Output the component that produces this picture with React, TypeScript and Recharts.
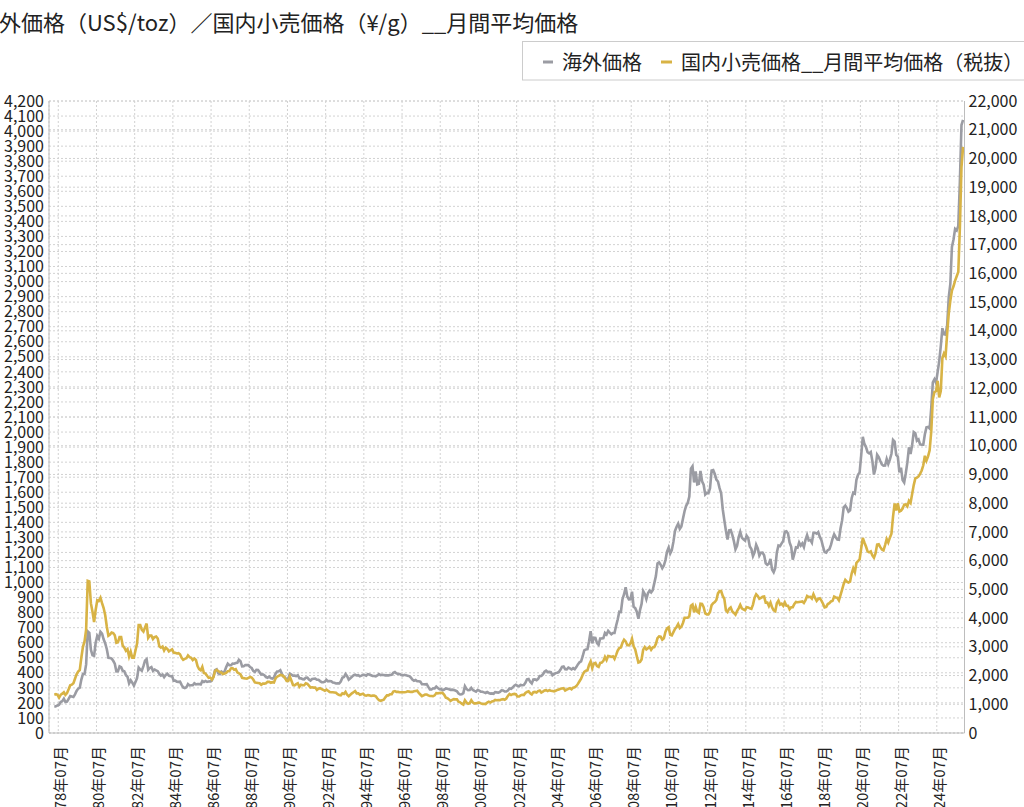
import React from 'react';
import { LineChart, Line, XAxis, YAxis, CartesianGrid } from 'recharts';

const FONT = "'Noto Sans CJK JP', 'Noto Sans', sans-serif";

// monthly series, 1978-04 .. 2025-11
const START_YEAR = 1978;
const START_MONTH = 4;

// 海外価格 (US$/toz), monthly average
const overseasUsd: number[] = [
  175, 177, 183, 188, 206, 212, 228, 206, 208, // 1978 Apr-Dec
  227, 245, 242, 239, 257, 279, 295, 301, 355, 392, 392, 456, // 1979
  675, 665, 553, 517, 513, 600, 645, 627, 673, 661, 623, 595, // 1980
  557, 500, 499, 495, 480, 461, 409, 410, 443, 437, 413, 410, // 1981
  384, 374, 330, 350, 334, 315, 339, 364, 435, 422, 414, 444, // 1982
  481, 491, 420, 432, 438, 413, 422, 416, 411, 393, 382, 388, // 1983
  371, 386, 394, 381, 377, 378, 348, 348, 341, 340, 341, 320, // 1984
  303, 299, 304, 325, 316, 317, 317, 330, 323, 326, 325, 322, // 1985
  345, 339, 346, 340, 342, 343, 348, 376, 418, 423, 396, 391, // 1986
  408, 401, 409, 438, 460, 450, 450, 461, 460, 465, 467, 486, // 1987
  477, 443, 444, 452, 451, 451, 438, 432, 413, 406, 420, 419, // 1988
  404, 388, 390, 384, 371, 367, 375, 365, 362, 367, 394, 409, // 1989
  410, 417, 393, 374, 369, 352, 362, 395, 389, 381, 381, 378, // 1990
  384, 364, 363, 358, 357, 367, 368, 356, 349, 359, 360, 361, // 1991
  354, 354, 345, 338, 337, 341, 353, 343, 345, 344, 335, 334, // 1992
  329, 330, 330, 342, 367, 372, 392, 378, 355, 364, 374, 383, // 1993
  387, 382, 384, 377, 381, 386, 385, 381, 391, 389, 384, 379, // 1994
  379, 377, 382, 391, 385, 387, 386, 383, 383, 383, 386, 387, // 1995
  400, 405, 396, 393, 392, 385, 383, 387, 383, 381, 378, 369, // 1996
  355, 347, 352, 344, 344, 341, 324, 324, 323, 325, 306, 289, // 1997
  289, 297, 296, 308, 299, 292, 293, 284, 289, 296, 294, 291, // 1998
  287, 288, 286, 282, 277, 262, 256, 257, 265, 311, 293, 284, // 1999
  285, 300, 286, 280, 275, 286, 282, 275, 274, 270, 266, 272, // 2000
  266, 262, 263, 261, 272, 270, 268, 273, 284, 283, 276, 276, // 2001
  282, 296, 294, 302, 314, 321, 314, 310, 319, 317, 319, 333, // 2002
  357, 359, 340, 329, 355, 356, 351, 360, 379, 379, 389, 407, // 2003
  414, 405, 406, 404, 384, 392, 398, 401, 405, 420, 439, 442, // 2004
  424, 423, 434, 429, 422, 431, 424, 438, 456, 470, 476, 510, // 2005
  549, 555, 557, 610, 676, 596, 633, 632, 598, 586, 628, 629, // 2006
  631, 665, 655, 679, 667, 656, 665, 665, 713, 754, 806, 804, // 2007
  889, 922, 968, 909, 888, 889, 939, 839, 830, 806, 760, 816, // 2008
  858, 943, 924, 890, 929, 946, 934, 949, 996, 1043, 1127, 1134, // 2009
  1118, 1095, 1113, 1149, 1205, 1232, 1193, 1215, 1270, 1343, 1370, 1391, // 2010
  1356, 1372, 1424, 1474, 1510, 1529, 1572, 1756, 1772, 1665, 1739, 1652, // 2011
  1656, 1742, 1673, 1650, 1585, 1596, 1594, 1626, 1744, 1747, 1721, 1684, // 2012
  1671, 1627, 1593, 1487, 1414, 1343, 1286, 1347, 1349, 1316, 1275, 1221, // 2013
  1244, 1300, 1336, 1299, 1287, 1279, 1311, 1296, 1239, 1222, 1176, 1201, // 2014
  1251, 1227, 1179, 1198, 1199, 1181, 1128, 1118, 1125, 1157, 1086, 1068, // 2015
  1097, 1200, 1246, 1242, 1260, 1276, 1337, 1341, 1326, 1266, 1238, 1152, // 2016
  1192, 1234, 1231, 1266, 1246, 1260, 1236, 1283, 1315, 1280, 1283, 1265, // 2017
  1331, 1331, 1325, 1335, 1303, 1282, 1238, 1202, 1198, 1215, 1221, 1250, // 2018
  1291, 1320, 1301, 1286, 1284, 1359, 1413, 1500, 1511, 1495, 1471, 1480, // 2019
  1560, 1597, 1591, 1683, 1716, 1732, 1846, 1968, 1921, 1900, 1866, 1858, // 2020
  1867, 1808, 1718, 1760, 1850, 1834, 1807, 1785, 1776, 1777, 1821, 1788, // 2021
  1817, 1856, 1948, 1937, 1848, 1837, 1732, 1764, 1681, 1665, 1726, 1798, // 2022
  1898, 1854, 1913, 2000, 1992, 1943, 1951, 1918, 1916, 1916, 1985, 2031, // 2023
  2034, 2023, 2159, 2331, 2351, 2326, 2398, 2470, 2571, 2690, 2651, 2648, // 2024
  2708, 2895, 2984, 3230, 3280, 3350, 3340, 3370, 3665, 4040, 4075, // 2025 Jan-Nov
];

// 国内小売価格__月間平均価格（税抜） (¥/g)
const domesticJpy: number[] = [
  1330, 1350, 1330, 1230, 1330, 1370, 1420, 1330, 1390, // 1978 Apr-Dec
  1520, 1660, 1680, 1730, 1890, 2040, 2140, 2190, 2630, 3000, 3190, 3600, // 1979
  5300, 5280, 4510, 4220, 3860, 4290, 4620, 4600, 4710, 4520, 4350, 4100, // 1980
  3700, 3390, 3430, 3500, 3480, 3400, 3140, 3160, 3340, 3340, 3040, 2970, // 1981
  2860, 2920, 2660, 2830, 2620, 2620, 2870, 3110, 3760, 3760, 3590, 3530, // 1982
  3670, 3810, 3310, 3390, 3390, 3270, 3340, 3360, 3290, 3020, 2970, 3010, // 1983
  2870, 2970, 2930, 2840, 2880, 2910, 2800, 2790, 2770, 2780, 2740, 2620, // 1984
  2550, 2580, 2600, 2700, 2640, 2620, 2540, 2590, 2540, 2330, 2220, 2180, // 1985
  2300, 2090, 2070, 1990, 1920, 1930, 1860, 1940, 2160, 2200, 2160, 2120, // 1986
  2100, 2050, 2070, 2090, 2150, 2160, 2250, 2260, 2200, 2220, 2110, 2080, // 1987
  2040, 1920, 1910, 1900, 1890, 1920, 1950, 1930, 1860, 1760, 1750, 1740, // 1988
  1730, 1680, 1720, 1720, 1730, 1780, 1780, 1750, 1770, 1760, 1900, 1960, // 1989
  1990, 2020, 2010, 1980, 1910, 1810, 1810, 1960, 1820, 1670, 1660, 1700, // 1990
  1730, 1610, 1680, 1660, 1660, 1730, 1710, 1650, 1580, 1590, 1580, 1580, // 1991
  1500, 1540, 1560, 1530, 1500, 1470, 1510, 1470, 1430, 1420, 1420, 1410, // 1992
  1400, 1350, 1320, 1310, 1380, 1360, 1430, 1330, 1280, 1330, 1380, 1420, // 1993
  1460, 1380, 1380, 1330, 1350, 1370, 1310, 1300, 1320, 1310, 1290, 1300, // 1994
  1300, 1280, 1200, 1140, 1120, 1140, 1160, 1240, 1310, 1310, 1350, 1350, // 1995
  1440, 1460, 1430, 1430, 1420, 1420, 1420, 1420, 1430, 1450, 1440, 1430, // 1996
  1430, 1450, 1460, 1470, 1400, 1340, 1280, 1310, 1340, 1340, 1310, 1290, // 1997
  1290, 1280, 1310, 1390, 1380, 1390, 1400, 1390, 1330, 1230, 1210, 1170, // 1998
  1120, 1150, 1180, 1170, 1170, 1090, 1070, 1020, 990, 1140, 1060, 1020, // 1999
  1040, 1140, 1060, 1030, 1030, 1050, 1060, 1030, 1010, 1020, 1010, 1060, // 2000
  1090, 1060, 1100, 1110, 1150, 1140, 1150, 1140, 1170, 1180, 1160, 1200, // 2001
  1290, 1360, 1320, 1350, 1360, 1350, 1270, 1270, 1310, 1330, 1320, 1390, // 2002
  1430, 1450, 1380, 1340, 1420, 1430, 1410, 1460, 1480, 1410, 1440, 1480, // 2003
  1490, 1460, 1490, 1470, 1460, 1450, 1470, 1500, 1510, 1540, 1550, 1560, // 2004
  1480, 1510, 1540, 1560, 1520, 1580, 1590, 1630, 1710, 1800, 1890, 2030, // 2005
  2130, 2170, 2180, 2370, 2490, 2260, 2420, 2440, 2330, 2300, 2440, 2450, // 2006
  2510, 2650, 2540, 2680, 2670, 2650, 2670, 2580, 2720, 2870, 2960, 2980, // 2007
  3140, 3250, 3190, 3060, 3050, 3110, 3280, 3020, 2910, 2670, 2450, 2470, // 2008
  2560, 2900, 2990, 2910, 2950, 3000, 2900, 2980, 2990, 3100, 3300, 3360, // 2009
  3350, 3250, 3300, 3520, 3640, 3680, 3420, 3400, 3510, 3620, 3690, 3790, // 2010
  3650, 3700, 3830, 4010, 4010, 4010, 4070, 4430, 4470, 4200, 4390, 4220, // 2011
  4180, 4500, 4490, 4380, 4160, 4130, 4130, 4210, 4450, 4520, 4560, 4630, // 2012
  4860, 4940, 4940, 4770, 4670, 4270, 4210, 4320, 4370, 4230, 4180, 4120, // 2013
  4240, 4340, 4460, 4340, 4300, 4270, 4380, 4370, 4340, 4320, 4470, 4710, // 2014
  4830, 4770, 4670, 4700, 4740, 4750, 4540, 4540, 4420, 4540, 4370, 4270, // 2015
  4240, 4520, 4610, 4470, 4500, 4430, 4550, 4430, 4430, 4310, 4380, 4380, // 2016
  4490, 4560, 4550, 4560, 4570, 4580, 4530, 4620, 4770, 4730, 4740, 4680, // 2017
  4830, 4700, 4600, 4670, 4690, 4610, 4500, 4370, 4390, 4490, 4520, 4580, // 2018
  4600, 4750, 4720, 4710, 4620, 4800, 4990, 5190, 5330, 5270, 5240, 5270, // 2019
  5550, 5730, 5600, 5920, 5980, 6040, 6430, 6790, 6630, 6490, 6320, 6290, // 2020
  6320, 6180, 6100, 6250, 6560, 6570, 6470, 6390, 6360, 6540, 6750, 6630, // 2021
  6800, 6940, 7530, 7990, 7750, 8000, 7710, 7740, 7810, 7950, 7960, 7890, // 2022
  8080, 8010, 8320, 8630, 8860, 8890, 8930, 9020, 9140, 9320, 9650, 9480, // 2023
  9630, 9840, 10490, 11620, 11870, 11900, 12260, 11680, 11900, 13050, 13210, 13110, // 2024
  13900, 14600, 15050, 15400, 15550, 15750, 15900, 16050, 17600, 19700, 20400, // 2025 Jan-Nov
];

const tickLabels = [
  '1978年07月', '1980年07月', '1982年07月', '1984年07月', '1986年07月', '1988年07月',
  '1990年07月', '1992年07月', '1994年07月', '1996年07月', '1998年07月', '2000年07月',
  '2002年07月', '2004年07月', '2006年07月', '2008年07月', '2010年07月', '2012年07月',
  '2014年07月', '2016年07月', '2018年07月', '2020年07月', '2022年07月', '2024年07月',
];

const leftTicks = [
  0, 100, 200, 300, 400, 500, 600, 700, 800, 900, 1000, 1100, 1200, 1300, 1400, 1500,
  1600, 1700, 1800, 1900, 2000, 2100, 2200, 2300, 2400, 2500, 2600, 2700, 2800, 2900,
  3000, 3100, 3200, 3300, 3400, 3500, 3600, 3700, 3800, 3900, 4000, 4100, 4200,
];

const rightTicks = [
  0, 1000, 2000, 3000, 4000, 5000, 6000, 7000, 8000, 9000, 10000, 11000, 12000, 13000,
  14000, 15000, 16000, 17000, 18000, 19000, 20000, 21000, 22000,
];

const months = overseasUsd.map((_, i) => {
  const m = START_MONTH - 1 + i;
  const y = START_YEAR + Math.floor(m / 12);
  const mm = (m % 12) + 1;
  return `${y}年${String(mm).padStart(2, '0')}月`;
});

const data = months.map((label, i) => ({
  i,
  label,
  usd: overseasUsd[i],
  jpy: domesticJpy[i],
}));

// tick for each "YYYY年07月" label, placed at the start of that month's slot
const xTicks = tickLabels.map((lab) => months.indexOf(lab) - 0.5);

const GRAY = '#9b9ca3';
const GOLD = '#d8b345';

const fmt = (v: number) => v.toLocaleString('en-US');

const XTick = (props: any) => {
  const { x, y, payload } = props;
  const idx = Math.round(payload.value + 0.5);
  const label = months[idx] ?? '';
  const tx = x + 8;
  const ty = y + 11;
  return (
    <text
      x={tx}
      y={ty}
      transform={`rotate(-90 ${tx} ${ty})`}
      textAnchor="end"
      fontSize={15}
      fill="#222"
      fontFamily={FONT}
    >
      {label}
    </text>
  );
};

export default function App() {
  return (
    <div
      style={{
        position: 'absolute',
        left: 0,
        top: 0,
        width: 1024,
        height: 807,
        overflow: 'hidden',
        background: '#fff',
        fontFamily: FONT,
      }}
    >
      <LineChart
        width={1024}
        height={807}
        data={data}
        margin={{ top: 101, right: 0, bottom: 0, left: 0 }}
      >
        <CartesianGrid
          yAxisId="left"
          stroke="#d2d2d2"
          strokeDasharray="2 2"
        />
        <CartesianGrid
          yAxisId="right"
          vertical={false}
          stroke="#d2d2d2"
          strokeDasharray="2 2"
        />
        <XAxis
          dataKey="i"
          type="number"
          domain={[-3.33, 571.9]}
          allowDataOverflow
          ticks={xTicks}
          interval={0}
          height={74}
          tickSize={0}
          tickLine={false}
          axisLine={{ stroke: '#bdbdbd' }}
          tick={<XTick />}
        />
        <YAxis
          yAxisId="left"
          orientation="left"
          domain={[0, 4200]}
          ticks={leftTicks}
          interval={0}
          width={49}
          tickSize={0}
          tickMargin={5}
          tickLine={false}
          axisLine={{ stroke: '#bdbdbd' }}
          tickFormatter={fmt}
          tick={{ fontSize: 16, fill: '#222', fontFamily: FONT }}
        />
        <YAxis
          yAxisId="right"
          orientation="right"
          domain={[0, 22000]}
          ticks={rightTicks}
          interval={0}
          width={59.5}
          tickSize={0}
          tickMargin={4}
          tickLine={false}
          axisLine={{ stroke: '#bdbdbd' }}
          tickFormatter={fmt}
          tick={{ fontSize: 16, fill: '#222', fontFamily: FONT, textAnchor: 'start' }}
        />
        <Line
          yAxisId="left"
          type="linear"
          dataKey="usd"
          name="海外価格"
          stroke={GRAY}
          strokeWidth={2.6}
          dot={false}
          isAnimationActive={false}
        />
        <Line
          yAxisId="right"
          type="linear"
          dataKey="jpy"
          name="国内小売価格__月間平均価格（税抜）"
          stroke={GOLD}
          strokeWidth={2.6}
          dot={false}
          isAnimationActive={false}
        />
      </LineChart>
      <svg
        width={1024}
        height={100}
        style={{ position: 'absolute', left: 0, top: 0, pointerEvents: 'none' }}
      >
        <text x={-23} y={31} fontSize={22} fill="#222" fontFamily={FONT}>
          海外価格（US$/toz）／国内小売価格（¥/g）__月間平均価格
        </text>
        <rect x={522.5} y={41.5} width={520} height={38.5} fill="#fff" stroke="#cccccc" />
        <line x1={543} x2={553} y1={62} y2={62} stroke={GRAY} strokeWidth={3} />
        <text x={562} y={69.5} fontSize={20} fill="#222" fontFamily={FONT}>
          海外価格
        </text>
        <line x1={661} x2={672} y1={62} y2={62} stroke={GOLD} strokeWidth={3} />
        <text x={681} y={69.5} fontSize={20} fill="#222" fontFamily={FONT}>
          国内小売価格__月間平均価格（税抜）
        </text>
      </svg>
    </div>
  );
}
